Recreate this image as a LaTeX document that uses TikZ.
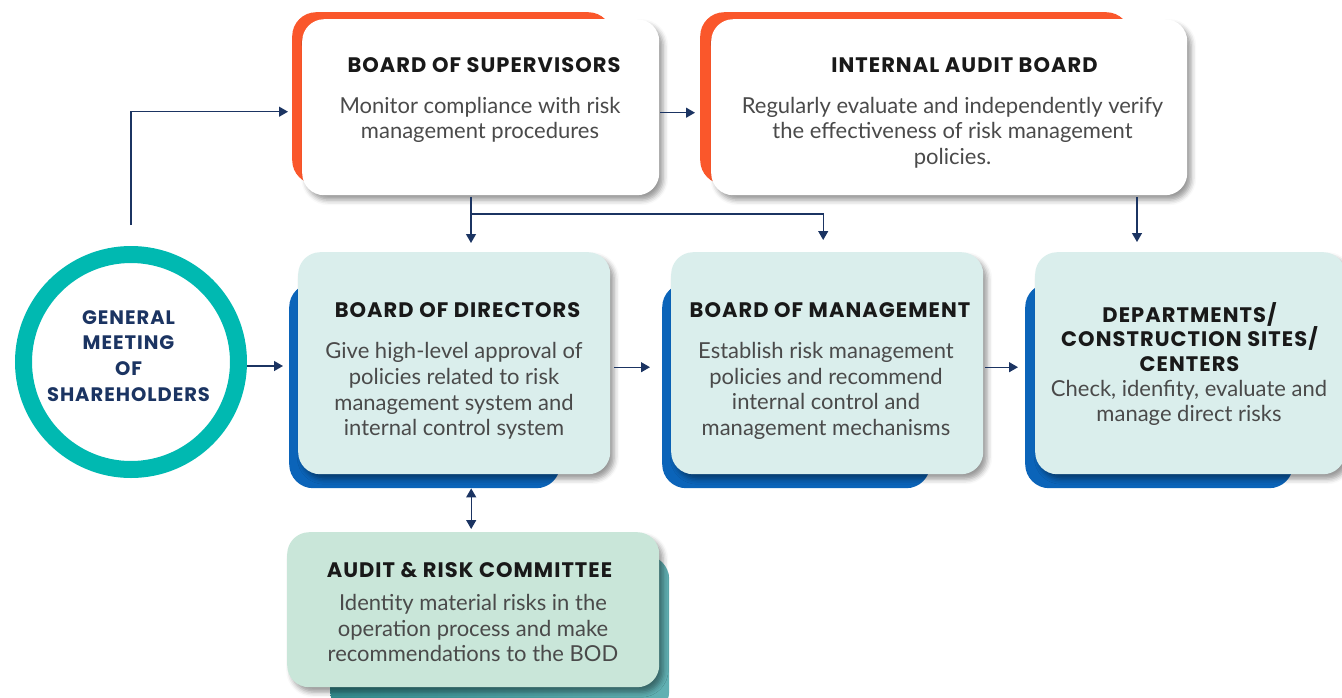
\documentclass[tikz,border=0pt]{standalone}
\usepackage{fontspec}
\setmainfont{Lato}
\newfontfamily\headfont{Poppins}[LetterSpace=5]
\usetikzlibrary{arrows.meta,shadows.blur}
\definecolor{orng}{HTML}{FA572B}
\definecolor{navy}{HTML}{1B3462}
\definecolor{ringcol}{HTML}{00B9B1}
\definecolor{dblue}{HTML}{0B64B9}
\definecolor{lbox}{HTML}{DAEEEC}
\definecolor{mint}{HTML}{C9E6D9}
\definecolor{dteal}{HTML}{3A9DA0}
\definecolor{bodygray}{HTML}{4A4A4A}
\begin{document}
\begin{tikzpicture}[x=1pt,y=-1pt,
  back/.style={rectangle, rounded corners=24pt, inner sep=0pt, anchor=north west},
  front/.style={rectangle, rounded corners=22pt, inner sep=0pt, anchor=north west,
    blur shadow={shadow xshift=4pt, shadow yshift=-5pt, shadow blur radius=5pt, shadow opacity=40}},
  ttl/.style={font=\headfont\bfseries\fontsize{21}{24.5}\selectfont, text=black!90, anchor=base, inner sep=0pt, align=center},
  txt/.style={font=\fontsize{22}{25.7}\selectfont, text=bodygray, inner sep=0pt, align=center},
  arr/.style={navy, line width=1.3pt, -{Triangle[length=9pt,width=10pt]}},
  arr2/.style={navy, line width=1.3pt, {Triangle[length=9pt,width=10pt]}-{Triangle[length=9pt,width=10pt]}}]
\useasboundingbox (0,0) rectangle (1342,697);
% back plates
\node[back, fill=orng, minimum width=320pt, minimum height=172pt] (bosbk) at (292,12) {};
\node[back, fill=orng, minimum width=430pt, minimum height=172pt] (iabbk) at (700,12) {};
\node[back, fill=dblue, minimum width=271pt, minimum height=205pt] (bodbk) at (289,283) {};
\node[back, fill=dblue, minimum width=268pt, minimum height=205pt] (bombk) at (662,283) {};
\node[back, fill=dblue, minimum width=268pt, minimum height=205pt] (deptbk) at (1025,283) {};
\node[back, left color=dteal!90!black, right color=dteal!80!white, minimum width=339pt, minimum height=160pt] (arcbk) at (330,555) {};
% front boxes
\node[front, fill=white, minimum width=357pt, minimum height=176pt] (bos) at (302,19) {};
\node[front, fill=white, minimum width=476pt, minimum height=176pt] (iab) at (711,19) {};
\node[front, fill=lbox, minimum width=312pt, minimum height=222pt] (bod) at (298,252) {};
\node[front, fill=lbox, minimum width=312pt, minimum height=222pt] (bom) at (671,252) {};
\node[front, fill=lbox, minimum width=310pt, minimum height=222pt] (dept) at (1035,252) {};
\node[front, fill=mint, minimum width=372pt, minimum height=155pt] (arc) at (287,532) {};
\node[circle, draw=ringcol, fill=white, line width=17pt, minimum size=215pt] (gms) at (131,362) {};
% texts
\node[ttl] (bost) at (484,72) {BOARD OF SUPERVISORS};
\node[txt] (bosd) at (480,120) {Monitor compliance with risk\\management procedures};
\node[ttl] (iabt) at (964.5,72) {INTERNAL AUDIT BOARD};
\node[txt] (iabd) at (952.5,132.5) {Regularly evaluate and independently verify\\the effectiveness of risk management\\policies.};
\node[ttl] (bodt) at (457.5,317) {BOARD OF DIRECTORS};
\node[txt] (bodd) at (454,391) {Give high-level approval of\\policies related to risk\\management system and\\internal control system};
\node[ttl] (bomt) at (830,317) {BOARD OF MANAGEMENT};
\node[txt] (bomd) at (826,391) {Establish risk management\\policies and recommend\\internal control and\\management mechanisms};
\node[ttl, anchor=center] (deptt) at (1189.5,337) {DEPARTMENTS/\\CONSTRUCTION SITES/\\CENTERS};
\node[txt] (deptd) at (1189,403) {Check, idenfity, evaluate and\\manage direct risks};
\node[ttl] (arct) at (469.5,577) {AUDIT \& RISK COMMITTEE};
\node[txt] (arcd) at (473,628) {Identity material risks in the\\operation process and make\\recommendations to the BOD};
\node[ttl, anchor=center, text=navy, font=\headfont\bfseries\fontsize{19.5}{25.8}\selectfont] (gmst) at (128.5,356) {GENERAL\\MEETING\\OF\\SHAREHOLDERS};
% connectors
\coordinate (split) at (471,214);
\coordinate (iabdrop) at (1137,0);
\draw[arr, shorten <=21pt, shorten >=14pt] (gms.north) |- ([yshift=-4.5pt]bos.west);
\draw[arr, shorten >=6pt] ([yshift=-4pt]gms.east) -- ([yshift=-4pt]gms.east -| bodbk.west);
\draw[arr, shorten <=4pt, shorten >=12pt] ([yshift=-4pt]bod.east) -- ([yshift=-4pt]bod.east -| bombk.west);
\draw[arr, shorten <=2pt, shorten >=7pt] ([yshift=-4pt]bom.east) -- ([yshift=-4pt]bom.east -| deptbk.west);
\draw[arr, shorten <=1pt, shorten >=5pt] ([yshift=-5.5pt]bos.east) -- ([yshift=-5.5pt]bos.east -| iabbk.west);
\draw[arr, shorten <=2pt, shorten >=9pt] (bos.south -| split) -- (split |- bod.north);
\draw[arr, shorten >=12pt] (split) -| ([xshift=-4pt]bom.north);
\draw[arr, shorten <=2pt, shorten >=10pt] (iab.south -| iabdrop) -- (dept.north -| iabdrop);
\draw[arr2, shorten >=3pt] ([xshift=-2pt]arc.north |- bodbk.south) -- ([xshift=-2pt]arc.north);
\end{tikzpicture}
\end{document}
